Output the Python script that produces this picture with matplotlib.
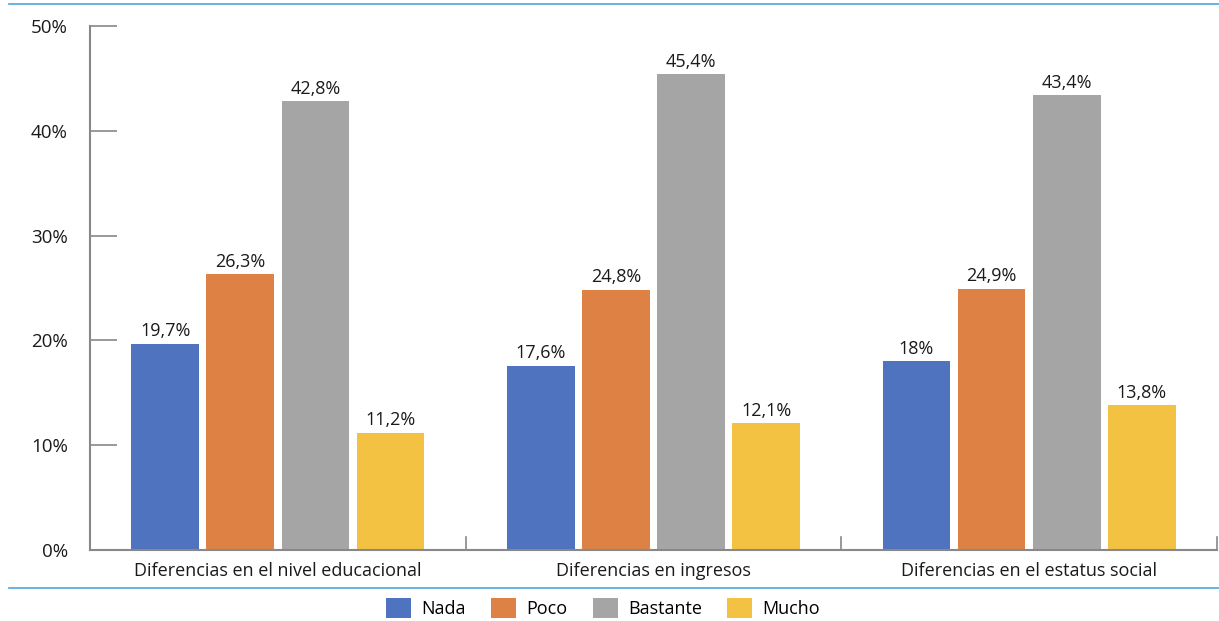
import matplotlib
matplotlib.use("Agg")
import matplotlib.pyplot as plt
from matplotlib.patches import Patch
from matplotlib.lines import Line2D
import numpy as np

categories = ["Diferencias en el nivel educacional", "Diferencias en ingresos",
              "Diferencias en el estatus social"]
series = ["Nada", "Poco", "Bastante", "Mucho"]
values = {
    "Nada": [19.7, 17.6, 18.0],
    "Poco": [26.3, 24.8, 24.9],
    "Bastante": [42.8, 45.4, 43.4],
    "Mucho": [11.2, 12.1, 13.8],
}
colors = {"Nada": "#4F73BE", "Poco": "#DD8244", "Bastante": "#A5A5A5", "Mucho": "#F4C242"}
yticks = [0, 10, 20, 30, 40, 50]

plt.rcParams["font.family"] = ["Open Sans", "DejaVu Sans"]
fs = 13

fig = plt.figure(figsize=(12.19, 6.21), dpi=100)
ax = fig.add_axes([90 / 1219, 1 - 550 / 621, 1127 / 1219, 524 / 621])

x = np.arange(len(categories))
step = 0.2
width = 0.18


def fmt(v):
    s = f"{v:.1f}".replace(".", ",")
    if s.endswith(",0"):
        s = s[:-2]
    return s + "%"


for i, s in enumerate(series):
    pos = x + (i - 1.5) * step
    bars = ax.bar(pos, values[s], width, color=colors[s], zorder=2)
    for b, v in zip(bars, values[s]):
        ax.text(b.get_x() + b.get_width() / 2, v + 0.35, fmt(v), ha="center",
                va="bottom", fontsize=fs, color="#1a1a1a")

ax.set_xlim(-0.5, 2.5)
ax.set_ylim(0, 50)
ax.set_yticks(yticks)
ax.set_yticklabels([f"{t}%" for t in yticks], fontsize=fs + 0.5, color="#1a1a1a")
ax.tick_params(axis="y", direction="in", length=19.5, width=1.2, color="#888888", pad=16)

ax.set_xticks(x)
ax.set_xticklabels(categories, fontsize=fs, color="#1a1a1a")
ax.tick_params(axis="x", length=0, pad=9)
for b in [0.5, 1.5, 2.5]:
    ax.plot([b, b], [0, 1.25], color="#888888", lw=1.2, clip_on=False, zorder=3)

for sp in ["top", "right"]:
    ax.spines[sp].set_visible(False)
for sp in ["left", "bottom"]:
    ax.spines[sp].set_color("#888888")
    ax.spines[sp].set_linewidth(1.5)

# horizontal rules framing the chart
fig.add_artist(Line2D([9 / 1219, 1], [1 - 4 / 621] * 2, color="#5DADE2", lw=1.3))
fig.add_artist(Line2D([9 / 1219, 1], [1 - 588 / 621] * 2, color="#5DADE2", lw=1.3))

handles = [Patch(facecolor=colors[s], label=s) for s in series]
fig.legend(handles=handles, loc="center", bbox_to_anchor=(603 / 1219, 1 - 608 / 621),
           ncol=4, frameon=False, fontsize=fs, handlelength=1.4, handleheight=1.4,
           columnspacing=1.4, handletextpad=0.55)

fig.savefig("out.png", dpi=100)
